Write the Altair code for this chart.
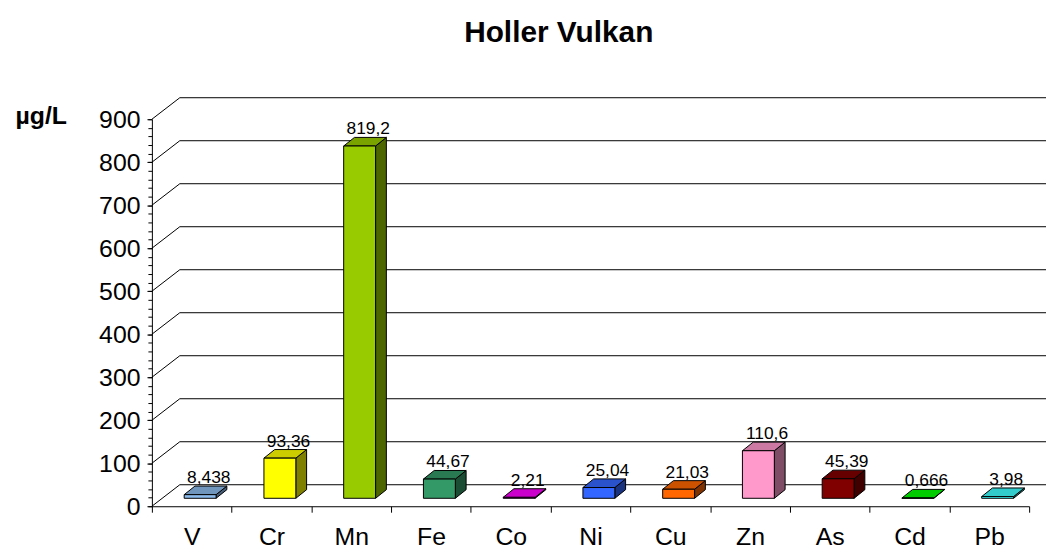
import json
import altair as alt
import pandas as pd

# ---- data ----
elements = ["V", "Cr", "Mn", "Fe", "Co", "Ni", "Cu", "Zn", "As", "Cd", "Pb"]
values = [8.438, 93.36, 819.2, 44.67, 2.21, 25.04, 21.03, 110.6, 45.39, 0.666, 3.98]
front_colors = ["#8CBCEE", "#FFFF00", "#99CC00", "#339966", "#FF00FF", "#3366FF",
                "#FF6600", "#FF99CC", "#800000", "#00FF00", "#40FFFF"]
top_colors = ["#7096BE", "#CCCC00", "#7AA300", "#297A52", "#CC00CC", "#2952CC",
              "#CC5200", "#CC7AA3", "#660000", "#00CC00", "#33CCCC"]
side_colors = ["#465E77", "#808000", "#4D6600", "#1A4D33", "#800080", "#1A3380",
               "#803300", "#804D66", "#400000", "#008000", "#208080"]
y_major = list(range(0, 901, 100))
y_minor = list(range(0, 901, 20))

# ---- 3D geometry (data units) ----
WALL_DX, WALL_DY = 0.35, 50       # depth of floor / back wall
BAR_L, BAR_R = 0.405, 0.805       # front face within each category slot
BAR_Y0 = 18.5                     # bars stand mid-depth on the floor
BAR_DX, BAR_DY = 0.135, 20        # depth of each bar

n = len(elements)
FONT = "Liberation Sans"
xs = alt.Scale(domain=[0, n], nice=False, zero=False)
ys = alt.Scale(domain=[0, 900], nice=False, zero=False)
col = alt.Color("c:N", scale=None, legend=None)

# back wall gridlines
grid_df = pd.DataFrame({"gx": WALL_DX, "gx2": n + WALL_DX, "gy": [v + WALL_DY for v in y_major]})
# diagonals from axis to back wall
diag_df = pd.DataFrame({"dx": 0.0, "dx2": WALL_DX, "dy": y_major, "dy2": [v + WALL_DY for v in y_major]})

front_rows, top_rows, side_rows, lab_rows = [], [], [], []
for i, (el, v) in enumerate(zip(elements, values)):
    l, r = i + BAR_L, i + BAR_R
    top = BAR_Y0 + v
    front_rows.append({"el": el, "c": front_colors[i], "fx": l, "fx2": r, "fy": BAR_Y0, "fy2": top})
    for t in (0, 1):
        top_rows.append({"el": el, "c": top_colors[i], "ty": top + t * BAR_DY,
                         "tx": l + t * BAR_DX, "tx2": r + t * BAR_DX})
        side_rows.append({"el": el, "c": side_colors[i], "sx": r + t * BAR_DX,
                          "sy": BAR_Y0 + t * BAR_DY, "sy2": top + t * BAR_DY})
    lab_rows.append({"el": el, "lx": (l + r) / 2 + 0.8 * BAR_DX, "ly": top + BAR_DY,
                     "txt": str(v).replace(".", ",")})

front_df = pd.DataFrame(front_rows)
top_df = pd.DataFrame(top_rows)
side_df = pd.DataFrame(side_rows)
lab_df = pd.DataFrame(lab_rows)

label_expr = json.dumps(elements) + "[floor(datum.value)]"

grid = alt.Chart(grid_df).mark_rule(color="black", strokeWidth=1).encode(
    x=alt.X("gx:Q", scale=xs, axis=alt.Axis(
        orient="bottom", values=[i + 0.5 for i in range(n)], labelExpr=label_expr,
        ticks=False, domain=False, grid=False, labelFontSize=25, labelFont=FONT,
        labelColor="black", labelPadding=19, labelFlush=False, labelOverlap=False, title=None)),
    x2="gx2:Q",
    y=alt.Y("gy:Q", scale=ys, axis=alt.Axis(
        orient="left", values=y_major, grid=False, tickSize=5, tickColor="black",
        domainColor="black", labelFontSize=25, labelFont=FONT, labelColor="black",
        labelPadding=7, labelFlush=False, labelOverlap=False,
        title="µg/L", titleAngle=0, titleFont=FONT, titleFontSize=25, titleFontWeight="bold",
        titleColor="black", titleX=-112, titleY=-4, titleAlign="center", titleBaseline="middle")),
)

diag = alt.Chart(diag_df).mark_rule(color="black", strokeWidth=1).encode(
    x=alt.X("dx:Q", scale=xs, axis=alt.Axis(
        orient="bottom", values=list(range(n + 1)), labels=False, tickSize=6,
        tickColor="black", domain=True, domainColor="black", grid=False, title=None)),
    x2="dx2:Q",
    y=alt.Y("dy:Q", scale=ys, axis=alt.Axis(
        orient="left", values=y_minor, labels=False, tickSize=4, tickColor="black",
        domain=False, grid=False, title=None)),
    y2="dy2:Q",
)

side = alt.Chart(side_df).mark_area(orient="vertical", stroke="black", strokeWidth=1,
                                     opacity=1, fillOpacity=1).encode(
    x=alt.X("sx:Q", scale=xs, axis=None),
    y=alt.Y("sy:Q", scale=ys, axis=None),
    y2="sy2:Q",
    detail="el:N",
    color=col,
)

topf = alt.Chart(top_df).mark_area(orient="horizontal", stroke="black", strokeWidth=1,
                                    opacity=1, fillOpacity=1).encode(
    y=alt.Y("ty:Q", scale=ys, axis=None),
    x=alt.X("tx:Q", scale=xs, axis=None),
    x2="tx2:Q",
    detail="el:N",
    color=col,
)

front = alt.Chart(front_df).mark_rect(stroke="black", strokeWidth=1).encode(
    x=alt.X("fx:Q", scale=xs, axis=None),
    x2="fx2:Q",
    y=alt.Y("fy:Q", scale=ys, axis=None),
    y2="fy2:Q",
    color=col,
)

labels = alt.Chart(lab_df).mark_text(font=FONT, fontSize=17.5, color="black",
                                      baseline="alphabetic", align="center", dy=-3).encode(
    x=alt.X("lx:Q", scale=xs, axis=None),
    y=alt.Y("ly:Q", scale=ys, axis=None),
    text="txt:N",
)

chart = alt.layer(grid, diag, side, topf, front, labels).resolve_axis(
    x="independent", y="independent"
).properties(
    width=884, height=390,
    title=alt.TitleParams("Holler Vulkan", font=FONT, fontSize=30, fontWeight="bold",
                          color="black", anchor="middle", frame="group", dx=-32, offset=50),
    autosize=alt.AutoSizeParams(type="none"),
    padding={"left": 145, "top": 110, "right": 17, "bottom": 40},
    background="white",
).configure_view(stroke=None)

chart.save("out.html", embed_options={"renderer": "svg", "actions": False})
